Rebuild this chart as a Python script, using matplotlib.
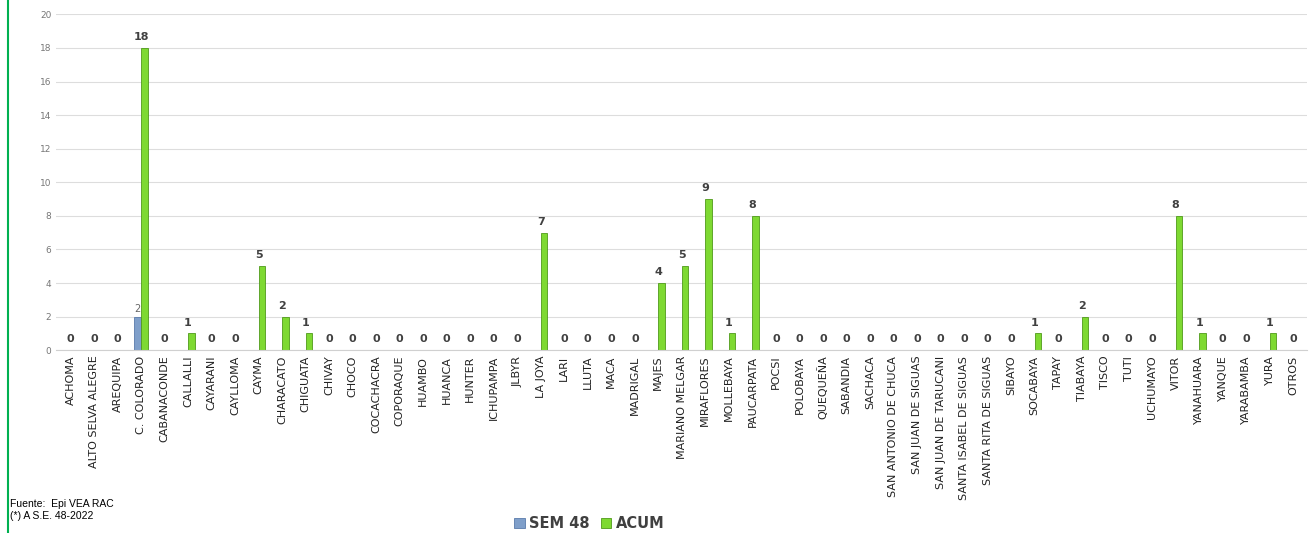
import matplotlib.pyplot as plt
import numpy as np

plt.rcParams['font.family'] = ['DejaVu Sans']

distritos = ['ACHOMA', 'ALTO SELVA ALEGRE', 'AREQUIPA', 'C. COLORADO', 'CABANACONDE',
             'CALLALLI', 'CAYARANI', 'CAYLLOMA', 'CAYMA', 'CHARACATO', 'CHIGUATA',
             'CHIVAY', 'CHOCO', 'COCACHACRA', 'COPORAQUE', 'HUAMBO', 'HUANCA', 'HUNTER',
             'ICHUPAMPA', 'JLBYR', 'LA JOYA', 'LARI', 'LLUTA', 'MACA', 'MADRIGAL', 'MAJES',
             'MARIANO MELGAR', 'MIRAFLORES', 'MOLLEBAYA', 'PAUCARPATA', 'POCSI', 'POLOBAYA',
             'QUEQUEÑA', 'SABANDIA', 'SACHACA', 'SAN ANTONIO DE CHUCA', 'SAN JUAN DE SIGUAS',
             'SAN JUAN DE TARUCANI', 'SANTA ISABEL DE SIGUAS', 'SANTA RITA DE SIGUAS',
             'SIBAYO', 'SOCABAYA', 'TAPAY', 'TIABAYA', 'TISCO', 'TUTI', 'UCHUMAYO', 'VITOR',
             'YANAHUARA', 'YANQUE', 'YARABAMBA', 'YURA', 'OTROS']

sem48 = [0, 0, 0, 2, 0, 0, 0, 0, 0, 0, 0, 0, 0, 0, 0, 0, 0, 0, 0, 0, 0, 0, 0, 0, 0, 0,
         0, 0, 0, 0, 0, 0, 0, 0, 0, 0, 0, 0, 0, 0, 0, 0, 0, 0, 0, 0, 0, 0, 0, 0, 0, 0, 0]

acum = [0, 0, 0, 18, 0, 1, 0, 0, 5, 2, 1, 0, 0, 0, 0, 0, 0, 0, 0, 0, 7, 0, 0, 0, 0, 4,
        5, 9, 1, 8, 0, 0, 0, 0, 0, 0, 0, 0, 0, 0, 0, 1, 0, 2, 0, 0, 0, 8, 1, 0, 0, 1, 0]

x = np.arange(len(distritos))
w = 0.28

fig = plt.figure(figsize=(13.1, 5.33), dpi=100)
ax = fig.add_axes([0.043, 0.343, 0.955, 0.63])

b1 = ax.bar(x - w / 2, sem48, w, color='#7f9fca', edgecolor='#5a7bab', linewidth=0.6, label='SEM 48')
b2 = ax.bar(x + w / 2, acum, w, color='#7ed932', edgecolor='#4f9a1a', linewidth=0.6, label='ACUM')

# etiquetas
for xi, v in zip(x, sem48):
    if v > 0:
        ax.text(xi - w / 2, v + 0.15, str(v), ha='center', va='bottom', fontsize=7, color='#666666')
for xi, v in zip(x, acum):
    ax.text(xi, v + 0.35, str(v), ha='center', va='bottom', fontsize=8, fontweight='bold', color='#404040')

ax.set_ylim(0, 20)
ax.set_yticks(range(0, 21, 2))
ax.set_xlim(-0.6, len(distritos) - 0.4)
ax.set_xticks(x)
ax.set_xticklabels(distritos, rotation=90, fontsize=8, color='#222222')
ax.tick_params(axis='y', labelsize=6.5, colors='#777777', length=0)
ax.tick_params(axis='x', length=0, pad=4)
ax.grid(axis='y', color='#dddddd', linewidth=0.8)
ax.set_axisbelow(True)
for s in ['top', 'right', 'left']:
    ax.spines[s].set_visible(False)
ax.spines['bottom'].set_color('#d0d0d0')

fig.legend(handles=[b1, b2], loc='center', bbox_to_anchor=(0.45, 0.018), ncol=2, frameon=False,
           prop={'size': 10.5, 'weight': 'bold'}, handlelength=0.7, handleheight=0.7,
           handletextpad=0.3, columnspacing=0.8, labelcolor='#404040')

fig.text(0.008, 0.048, 'Fuente:  Epi VEA RAC', fontsize=7.5, family='Liberation Sans')
fig.text(0.008, 0.026, '(*) A S.E. 48-2022', fontsize=7.5, family='Liberation Sans')

# borde verde a la izquierda
fig.add_artist(plt.Line2D([0.006, 0.006], [0, 1], color='#00b050', linewidth=1.5, transform=fig.transFigure))

fig.savefig('out.png', dpi=100)
